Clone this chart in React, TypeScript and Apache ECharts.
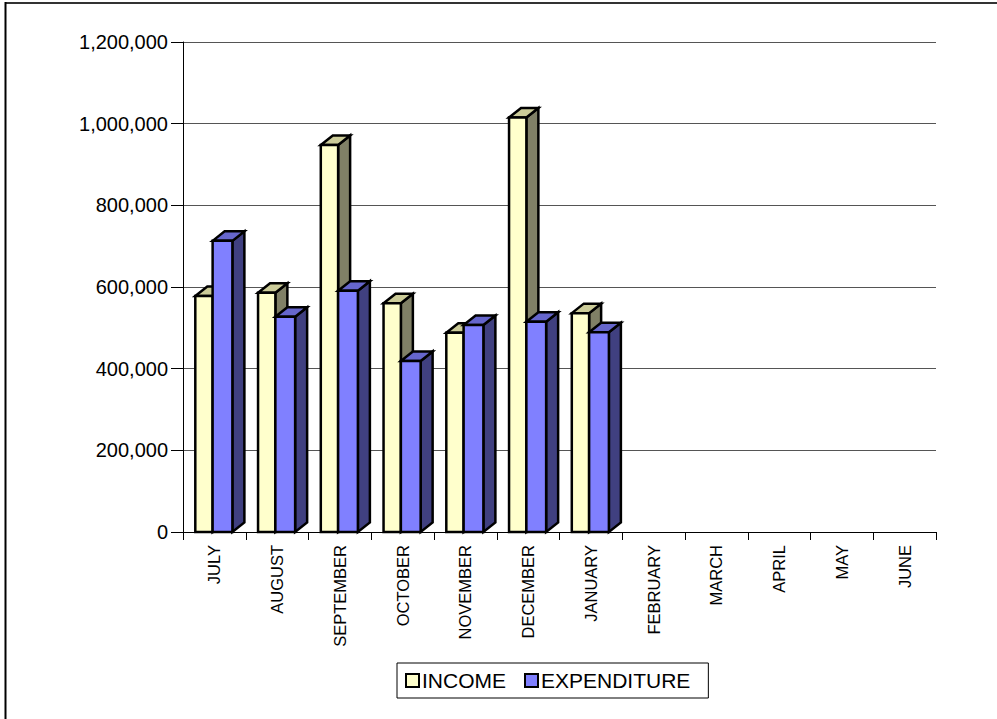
import React, { useEffect, useRef } from 'react';
import * as echarts from 'echarts';

const months = ['JULY', 'AUGUST', 'SEPTEMBER', 'OCTOBER', 'NOVEMBER', 'DECEMBER', 'JANUARY', 'FEBRUARY', 'MARCH', 'APRIL', 'MAY', 'JUNE'];
const income = [578000, 586000, 948000, 560000, 488000, 1015000, 536000];
const expenditure = [713000, 527000, 591000, 419000, 507000, 515000, 489000];
const yMin = 0;
const yMax = 1200000;
const yStep = 200000;

const FONT = '"Liberation Sans", Arial, sans-serif';

function make3D(front: string, top: string, side: string, f0: number, f1: number) {
  return (_params: any, api: any) => {
    const idx = api.value(0);
    const val = api.value(1);
    const p = api.coord([idx, val]);
    const cx = p[0];
    const y = p[1];
    const y0 = api.coord([idx, 0])[1];
    const bw = api.size([1, 0])[0];
    const start = cx - bw / 2;
    const x0 = start + f0 * bw;
    const x1 = start + f1 * bw;
    const dx = 12;
    const dy = 9.5;
    const st = { stroke: '#000', lineWidth: 2.5, lineJoin: 'miter' };
    return {
      type: 'group',
      children: [
        { type: 'polygon', shape: { points: [[x1, y], [x1 + dx, y - dy], [x1 + dx, y0 - dy], [x1, y0]] }, style: { fill: side, ...st } },
        { type: 'polygon', shape: { points: [[x0, y], [x0 + dx, y - dy], [x1 + dx, y - dy], [x1, y]] }, style: { fill: top, ...st } },
        { type: 'rect', shape: { x: x0, y: y, width: x1 - x0, height: y0 - y }, style: { fill: front, ...st } },
      ],
    };
  };
}

export default function App() {
  const ref = useRef<HTMLDivElement>(null);
  useEffect(() => {
    if (!ref.current) return;
    const chart = echarts.init(ref.current, undefined, { renderer: 'svg' });
    chart.setOption({
      animation: false,
      backgroundColor: '#fff',
      grid: { left: 183, right: 61, top: 42, bottom: 187, containLabel: false },
      legend: {
        left: 397,
        top: 663,
        orient: 'horizontal',
        icon: 'rect',
        itemWidth: 13,
        itemHeight: 13,
        itemGap: 18,
        padding: [7, 18, 7, 8],
        borderColor: '#000',
        borderWidth: 1,
        textStyle: { fontFamily: FONT, fontSize: 21, color: '#000', padding: [0, 0, 0, -2] },
        data: [
          { name: 'INCOME', itemStyle: { color: '#FFFFCC', borderColor: '#000', borderWidth: 2 } },
          { name: 'EXPENDITURE', itemStyle: { color: '#8080FF', borderColor: '#000', borderWidth: 2 } },
        ],
      },
      xAxis: {
        type: 'category',
        data: months,
        boundaryGap: true,
        axisLine: { show: true, lineStyle: { color: '#000', width: 1 } },
        axisTick: { show: true, length: 8, lineStyle: { color: '#000' } },
        axisLabel: { rotate: 90, interval: 0, margin: 13, fontFamily: FONT, fontSize: 16.5, color: '#000' },
        splitLine: { show: false },
      },
      yAxis: {
        type: 'value',
        min: yMin,
        max: yMax,
        interval: yStep,
        axisLine: { show: true, lineStyle: { color: '#000', width: 1 } },
        axisTick: { show: true, length: 12, lineStyle: { color: '#000' } },
        axisLabel: {
          margin: 15,
          fontFamily: FONT,
          fontSize: 20,
          color: '#000',
          formatter: (v: number) => v.toLocaleString('en-US'),
        },
        splitLine: { show: true, lineStyle: { color: '#555', width: 1 } },
      },
      graphic: [
        { type: 'line', shape: { x1: 5, y1: 3, x2: 997, y2: 3 }, style: { stroke: '#333', lineWidth: 2 } },
        { type: 'line', shape: { x1: 5.5, y1: 2, x2: 5.5, y2: 719 }, style: { stroke: '#000', lineWidth: 2 } },
      ],
      series: [
        {
          name: 'INCOME',
          type: 'custom',
          itemStyle: { color: '#FFFFCC' },
          encode: { x: 0, y: 1 },
          renderItem: make3D('#FFFFCC', '#CCCC99', '#808066', 0.196, 0.472),
          data: income.map((v, i) => [i, v]),
        },
        {
          name: 'EXPENDITURE',
          type: 'custom',
          itemStyle: { color: '#8080FF' },
          encode: { x: 0, y: 1 },
          renderItem: make3D('#8080FF', '#6666CC', '#404080', 0.472, 0.787),
          data: expenditure.map((v, i) => [i, v]),
        },
      ],
    });
    return () => chart.dispose();
  }, []);
  return <div ref={ref} style={{ position: 'fixed', left: 0, top: 0, width: 997, height: 719, background: '#fff' }} />;
}
